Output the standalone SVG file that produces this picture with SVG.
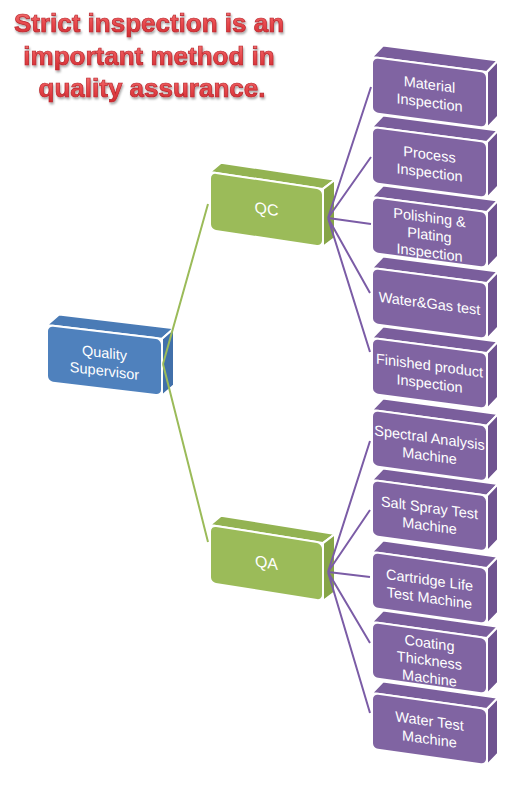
<svg xmlns="http://www.w3.org/2000/svg" width="520" height="789" viewBox="0 0 520 789">
<defs>
<linearGradient id="tg" x1="0" y1="0" x2="0" y2="1">
<stop offset="0" stop-color="#F47A7A"/>
<stop offset="0.5" stop-color="#E84A4E"/>
<stop offset="1" stop-color="#D0282E"/>
</linearGradient>
<filter id="sh" x="-10%" y="-20%" width="120%" height="150%">
<feDropShadow dx="1" dy="2" stdDeviation="1.2" flood-color="#000" flood-opacity="0.35"/>
</filter>
<style>
.title{font-family:"Liberation Sans",Arial,sans-serif;font-weight:bold;font-size:26px;fill:url(#tg);stroke:#B8262C;stroke-width:0.7;text-anchor:middle;filter:url(#sh)}
.lbl{font-family:"Liberation Sans",Arial,sans-serif;font-size:14.5px;fill:#fff;text-anchor:middle}
.big{font-size:16px}
.face{stroke:#fff;stroke-width:2;stroke-linejoin:round}
.pf{fill:#8064A2}.pt{fill:#7A5E9C}.ps{fill:#6F5390}
.gf{fill:#9BBB59}.gt{fill:#93B352}.gs{fill:#86A547}
.bf{fill:#4F81BD}.bt{fill:#4A7BB6}.bs{fill:#4170AA}
.pl{stroke:#7B5CA6;stroke-width:2;fill:none}
.gl{stroke:#9BBB59;stroke-width:2;fill:none}
</style>
</defs>
<rect width="520" height="789" fill="#fff"/>

<g id="title">
<text class="title" x="149" y="32">Strict inspection is an</text>
<text class="title" x="149" y="65">important method in</text>
<text class="title" x="152" y="97">quality assurance.</text>
</g>

<g id="quality-supervisor" transform="matrix(1,0.12,0,1,47,325)">
<polygon class="face bt" points="0,0 12,-12 127,-12 115,0"/>
<polygon class="face bs" points="115,0 127,-12 127,45 115,57"/>
<rect class="face bf" x="0" y="0" width="115" height="57" rx="6"/>
<text class="lbl" x="57.5" y="26">Quality</text>
<text class="lbl" x="57.5" y="44">Supervisor</text>
</g>

<g id="qc" transform="matrix(1,0.15,0,1,210,172)">
<polygon class="face gt" points="0,0 11,-11 125,-11 113,0"/>
<polygon class="face gs" points="113,0 125,-11 125,47 113,58"/>
<rect class="face gf" x="0" y="0" width="113" height="58" rx="6"/>
<text class="lbl big" x="56.5" y="34">QC</text>
</g>

<g id="qa" transform="matrix(1,0.16,0,1,210,525)">
<polygon class="face gt" points="0,0 11,-11 125,-11 113,0"/>
<polygon class="face gs" points="113,0 125,-11 125,47 113,58"/>
<rect class="face gf" x="0" y="0" width="113" height="58" rx="6"/>
<text class="lbl big" x="56.5" y="34">QA</text>
</g>

<g id="material-inspection" transform="matrix(1,0.13,0,1,372,57)">
<polygon class="face pt" points="0,0 11,-13 126,-13 115,0"/>
<polygon class="face ps" points="115,0 126,-13 126,43 115,56"/>
<rect class="face pf" x="0" y="0" width="115" height="56" rx="6"/>
<text class="lbl" x="57.5" y="25">Material</text>
<text class="lbl" x="57.5" y="43">Inspection</text>
</g>

<g id="process-inspection" transform="matrix(1,0.13,0,1,372,127)">
<polygon class="face pt" points="0,0 11,-13 126,-13 115,0"/>
<polygon class="face ps" points="115,0 126,-13 126,43 115,56"/>
<rect class="face pf" x="0" y="0" width="115" height="56" rx="6"/>
<text class="lbl" x="57.5" y="25">Process</text>
<text class="lbl" x="57.5" y="43">Inspection</text>
</g>

<g id="polishing-plating-inspection" transform="matrix(1,0.13,0,1,372,197)">
<polygon class="face pt" points="0,0 11,-13 126,-13 115,0"/>
<polygon class="face ps" points="115,0 126,-13 126,43 115,56"/>
<rect class="face pf" x="0" y="0" width="115" height="56" rx="6"/>
<text class="lbl" x="57.5" y="18">Polishing &amp;</text>
<text class="lbl" x="57.5" y="35.5">Plating</text>
<text class="lbl" x="57.5" y="53">Inspection</text>
</g>

<g id="water-gas-test" transform="matrix(1,0.13,0,1,372,268)">
<polygon class="face pt" points="0,0 11,-13 126,-13 115,0"/>
<polygon class="face ps" points="115,0 126,-13 126,43 115,56"/>
<rect class="face pf" x="0" y="0" width="115" height="56" rx="6"/>
<text class="lbl" x="57.5" y="33">Water&amp;Gas test</text>
</g>

<g id="finished-product-inspection" transform="matrix(1,0.13,0,1,372,338)">
<polygon class="face pt" points="0,0 11,-13 126,-13 115,0"/>
<polygon class="face ps" points="115,0 126,-13 126,43 115,56"/>
<rect class="face pf" x="0" y="0" width="115" height="56" rx="6"/>
<text class="lbl" x="57.5" y="25">Finished product</text>
<text class="lbl" x="57.5" y="43">Inspection</text>
</g>

<g id="spectral-analysis-machine" transform="matrix(1,0.135,0,1,372,410)">
<polygon class="face pt" points="0,0 11,-13 126,-13 115,0"/>
<polygon class="face ps" points="115,0 126,-13 126,43 115,56"/>
<rect class="face pf" x="0" y="0" width="115" height="56" rx="6"/>
<text class="lbl" x="57.5" y="25">Spectral Analysis</text>
<text class="lbl" x="57.5" y="43">Machine</text>
</g>

<g id="salt-spray-test-machine" transform="matrix(1,0.135,0,1,372,480)">
<polygon class="face pt" points="0,0 11,-13 126,-13 115,0"/>
<polygon class="face ps" points="115,0 126,-13 126,43 115,56"/>
<rect class="face pf" x="0" y="0" width="115" height="56" rx="6"/>
<text class="lbl" x="57.5" y="25">Salt Spray Test</text>
<text class="lbl" x="57.5" y="43">Machine</text>
</g>

<g id="cartridge-life-test-machine" transform="matrix(1,0.14,0,1,372,552)">
<polygon class="face pt" points="0,0 11,-13 126,-13 115,0"/>
<polygon class="face ps" points="115,0 126,-13 126,43 115,56"/>
<rect class="face pf" x="0" y="0" width="115" height="56" rx="6"/>
<text class="lbl" x="57.5" y="25">Cartridge Life</text>
<text class="lbl" x="57.5" y="43">Test Machine</text>
</g>

<g id="coating-thickness-machine" transform="matrix(1,0.14,0,1,372,622)">
<polygon class="face pt" points="0,0 11,-13 126,-13 115,0"/>
<polygon class="face ps" points="115,0 126,-13 126,43 115,56"/>
<rect class="face pf" x="0" y="0" width="115" height="56" rx="6"/>
<text class="lbl" x="57.5" y="18">Coating</text>
<text class="lbl" x="57.5" y="35.5">Thickness</text>
<text class="lbl" x="57.5" y="53">Machine</text>
</g>

<g id="water-test-machine" transform="matrix(1,0.14,0,1,372,693)">
<polygon class="face pt" points="0,0 11,-13 126,-13 115,0"/>
<polygon class="face ps" points="115,0 126,-13 126,43 115,56"/>
<rect class="face pf" x="0" y="0" width="115" height="56" rx="6"/>
<text class="lbl" x="57.5" y="25">Water Test</text>
<text class="lbl" x="57.5" y="43">Machine</text>
</g>

<g id="connectors">
<path class="gl" d="M163,364 L208,204 M163,364 L208,542"/>
<path class="pl" d="M328,218 L371,87 M328,218 L371,157 M328,218 L371,224 M328,218 L370,293 M328,218 L370,352"/>
<path class="pl" d="M328,572 L370,441 M328,572 L370,510 M328,572 L370,577 M328,572 L370,643 M328,572 L370,713"/>
</g>
</svg>
